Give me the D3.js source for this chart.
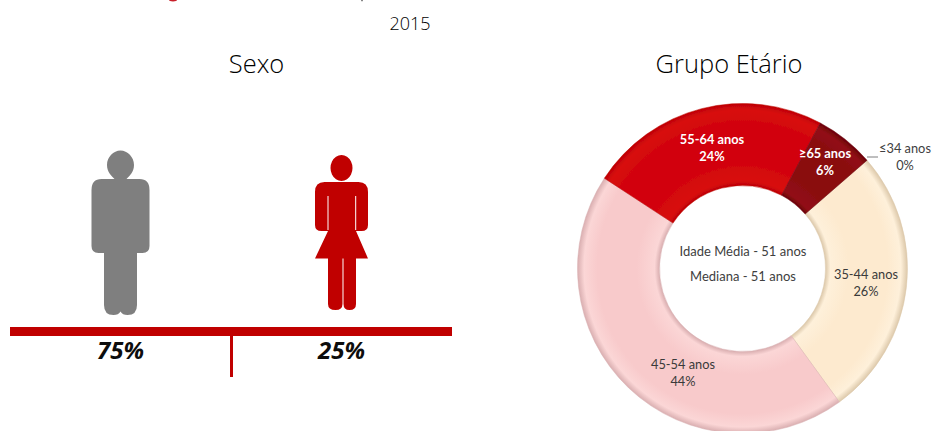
<!DOCTYPE html>
<html lang="pt">
<head>
  <meta charset="UTF-8">
  <title>Sexo e Grupo Etário 2015</title>
  <script src="https://cdn.jsdelivr.net/npm/d3@7/dist/d3.min.js"></script>
  <style>
    html, body { margin: 0; background: #fff; }
    svg { display: block; }
    .heading { font-family: "Open Sans", sans-serif; font-weight: 300; fill: #000; text-anchor: middle; }
    .share { font-family: "Open Sans", sans-serif; font-weight: 700; font-style: italic; font-size: 24px; fill: #0d0d0d; text-anchor: middle; }
    .label { font-family: Lato, sans-serif; font-size: 12.8px; text-anchor: middle; }
    .centre { font-family: Lato, sans-serif; font-size: 13px; fill: #404040; text-anchor: middle; }
  </style>
</head>
<body>
  <script>
    const sexCategories = ["Homens", "Mulheres"];
    const sexValues = [75, 25];

    const ageCategories = ["≤34 anos", "35-44 anos", "45-54 anos", "55-64 anos", "≥65 anos"];
    // unrounded estimates read off the ring, printed labels are below
    const ageValues = [0, 26.4, 44.2, 23.6, 5.8];
    const ageLabels = ["0%", "26%", "44%", "24%", "6%"];
    const ageColors = ["#d9d9d9", "#fdeacf", "#f8cacb", "#d20508", "#8a0a10"];
    const ageLights = ["#eeeeee", "#fef0da", "#fbd6d6", "#d80c0e", "#921015"];
    const ageEdges = ["#bfbfbf", "#dcc8aa", "#d9aeb0", "#bd0204", "#6a0208"];
    const ageTextColors = ["#404040", "#3a3a3a", "#3a3a3a", "#fff", "#fff"];
    const centreLines = ["Idade Média - 51 anos", "Mediana - 51 anos"];

    const width = 933, height = 431;
    const svg = d3.select("body").append("svg").attr("width", width).attr("height", height);
    const defs = svg.append("defs");

    // bits of a cut off headline at the top edge
    svg.append("ellipse").attr("cx", 173).attr("cy", 0).attr("rx", 4).attr("ry", 1.4).attr("fill", "#c8202a");
    svg.append("ellipse").attr("cx", 362).attr("cy", 0).attr("rx", 1).attr("ry", 1.4).attr("fill", "#777");

    svg.append("text").attr("class", "heading").attr("x", 410).attr("y", 30)
       .style("font-size", "18px").text("2015");
    svg.append("text").attr("class", "heading").attr("x", 256.5).attr("y", 73)
       .style("font-size", "25.5px").text("Sexo");
    svg.append("text").attr("class", "heading").attr("x", 729).attr("y", 73)
       .style("font-size", "25.5px").text("Grupo Etário");

    // left panel
    const x = d3.scaleBand().domain(sexCategories).range([10, 452]);
    const sexColor = d3.scaleOrdinal().domain(sexCategories).range(["#7f7f7f", "#c00000"]);

    const manPath = "M-6,14 C-9,11 -13.5,7 -13.5,-0 C-13.5,-8 -7,-14.5 0,-14.5 C7,-14.5 13.5,-8 13.5,-0 C13.5,7 9,11 6,14" +
      " L19,14 Q29,14 29,25 L29,81 Q29,88 22,88 L16.5,88 L16.5,140 Q16.5,150 7,150 Q2,150 0,146.5 Q-2,150 -7,150 Q-16.5,150 -16.5,140" +
      " L-16.5,88 L-22,88 Q-29,88 -29,81 L-29,25 Q-29,14 -19,14 Z";
    const womanHead = "M0,-13 a11,13 0 1,0 0.01,0 Z";
    const womanBody = "M-17,14 L17,14 Q26.5,14 26.5,24 L26.5,57 Q26.5,63 20,63 L14.5,63 L26.5,90.5 L14.5,90.5 L14.5,136 Q14.5,142 8,142 Q2,142 2,136" +
      " L2,90.5 L1,90.5 L1,136 Q1,142 -6,142 Q-13.5,142 -13.5,136 L-13.5,90.5 L-26.5,90.5 L-13.5,63 L-20,63 Q-26.5,63 -26.5,57 L-26.5,24 Q-26.5,14 -17,14 Z";

    svg.append("path")
       .attr("transform", `translate(${x("Homens") + x.bandwidth() / 2},165)`)
       .attr("fill", sexColor("Homens")).attr("d", manPath);
    const woman = svg.append("g")
       .attr("transform", `translate(${x("Mulheres") + x.bandwidth() / 2},168)`)
       .attr("fill", sexColor("Mulheres"));
    woman.append("path").attr("d", womanHead);
    woman.append("path").attr("d", womanBody);
    // slits between arms and torso
    woman.selectAll("line").data([-13.5, 14.2]).enter().append("line")
       .attr("x1", d => d).attr("x2", d => d).attr("y1", 28).attr("y2", 62)
       .attr("stroke", "#fff").attr("stroke-width", 1);

    svg.append("rect").attr("x", x.range()[0]).attr("y", 327)
       .attr("width", x.range()[1] - x.range()[0]).attr("height", 9).attr("fill", "#c00000");
    svg.append("rect").attr("x", x("Mulheres") - 1).attr("y", 336)
       .attr("width", 3).attr("height", 41).attr("fill", "#c00000");

    svg.selectAll(".share").data(sexCategories).enter().append("text")
       .attr("class", "share")
       .attr("x", d => x(d) + x.bandwidth() / 2)
       .attr("y", 359)
       .text((d, i) => sexValues[i] + "%");

    // right panel
    const cx = 742.5, cy = 268.5, outer = 165, inner = 83;
    const ring = svg.append("g").attr("transform", `translate(${cx},${cy})`);

    const soft = defs.append("filter").attr("id", "soft");
    soft.append("feGaussianBlur").attr("stdDeviation", 0.6);

    const pie = d3.pie().sort(null)
      .startAngle(49 * Math.PI / 180)
      .endAngle(409 * Math.PI / 180);
    const arc = d3.arc().innerRadius(inner).outerRadius(outer);
    const arcs = pie(ageValues);

    arcs.forEach((d, i) => {
      const g = defs.append("radialGradient").attr("id", "slice" + i)
        .attr("gradientUnits", "userSpaceOnUse").attr("cx", 0).attr("cy", 0).attr("r", outer);
      const stops = [[inner / outer, ageEdges[i]], [inner / outer + 0.03, ageLights[i]],
                     [inner / outer + 0.14, ageColors[i]], [0.88, ageColors[i]],
                     [0.96, ageLights[i]], [1, ageEdges[i]]];
      g.selectAll("stop").data(stops).enter().append("stop")
        .attr("offset", s => s[0]).attr("stop-color", s => s[1]);
    });

    ring.append("g").attr("filter", "url(#soft)")
        .selectAll("path").data(arcs).enter().append("path")
        .attr("d", arc)
        .attr("fill", (d, i) => `url(#slice${i})`)
        .attr("stroke", (d, i) => ageEdges[i])
        .attr("stroke-width", 0.5);

    // label places picked by hand, the ring centroids sit too far off in the picture
    const labelSpots = [[905, 149], [866, 275], [683, 365], [712, 140], [825, 154]];
    svg.append("line").attr("x1", 867).attr("y1", 157).attr("x2", 878).attr("y2", 157)
       .attr("stroke", "#7f7f7f");

    ageCategories.forEach((name, i) => {
      const t = svg.append("text").attr("class", "label").attr("fill", ageTextColors[i])
        .style("font-weight", i >= 3 ? 700 : 400);
      t.append("tspan").attr("x", labelSpots[i][0]).attr("y", labelSpots[i][1] + 4).text(name);
      t.append("tspan").attr("x", labelSpots[i][0]).attr("y", labelSpots[i][1] + 21).text(ageLabels[i]);
    });

    svg.selectAll(".centre").data(centreLines).enter().append("text")
       .attr("class", "centre")
       .attr("x", 743)
       .attr("y", (d, i) => 256 + i * 25)
       .text(d => d);
  </script>
</body>
</html>
